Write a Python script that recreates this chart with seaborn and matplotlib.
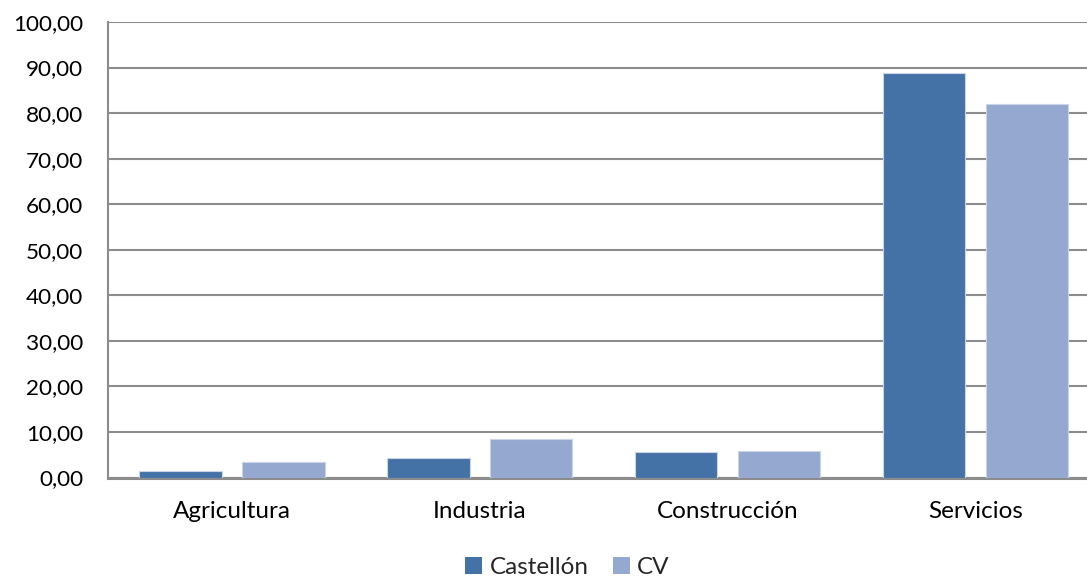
import matplotlib
matplotlib.use("Agg")
import matplotlib.pyplot as plt
import seaborn as sns
import pandas as pd
from matplotlib.ticker import FuncFormatter
from matplotlib.patches import Patch

categories = ["Agricultura", "Industria", "Construcción", "Servicios"]
castellon = [1.45, 4.2, 5.5, 88.9]
cv = [3.5, 8.4, 5.9, 82.1]
series_names = ["Castellón", "CV"]
colors = ["#4472A7", "#95A9D0"]

df = pd.DataFrame({
    "Sector": categories * 2,
    "Serie": [series_names[0]] * 4 + [series_names[1]] * 4,
    "Valor": castellon + cv,
})

sns.set_theme(style="white")
plt.rcParams['font.family'] = ['Lato', 'DejaVu Sans']

fig = plt.figure(figsize=(10.87, 5.79), dpi=100)
ax = fig.add_axes([0.0994, 0.1753, 0.9006, 0.7867])

sns.barplot(data=df, x="Sector", y="Valor", hue="Serie", order=categories,
            hue_order=series_names, palette=colors, saturation=1, width=0.83, gap=0.2,
            ax=ax, edgecolor="#C9D4E8", linewidth=0.8, legend=False, zorder=3)

ax.set_ylim(0, 100)
ax.set_yticks(range(0, 101, 10))
ax.yaxis.set_major_formatter(FuncFormatter(lambda v, p: f"{v:.2f}".replace(".", ",")))
ax.set_xlim(-0.5, 3.45)
ax.grid(axis="y", color="#8C8C8C", linewidth=1.5, zorder=0)
ax.set_axisbelow(True)
for s in ["top", "right"]:
    ax.spines[s].set_visible(False)
ax.spines["left"].set_color("#8C8C8C")
ax.spines["left"].set_linewidth(1.5)
ax.spines["bottom"].set_color("#8C8C8C")
ax.spines["bottom"].set_linewidth(2.2)
ax.tick_params(axis="y", length=0, pad=18, labelsize=16.2, labelcolor="#000000")
ax.tick_params(axis="x", length=0, pad=17, labelsize=17.5, labelcolor="#000000")
ax.set_xlabel("")
ax.set_ylabel("")

handles = [Patch(facecolor=c, edgecolor="none") for c in colors]
fig.legend(handles, series_names, loc="center", bbox_to_anchor=(0.522, 0.02),
           ncol=2, frameon=False, fontsize=17.5, handlelength=0.7,
           handleheight=0.7, handletextpad=0.3, columnspacing=1.0)

fig.savefig("out.png", dpi=100)
